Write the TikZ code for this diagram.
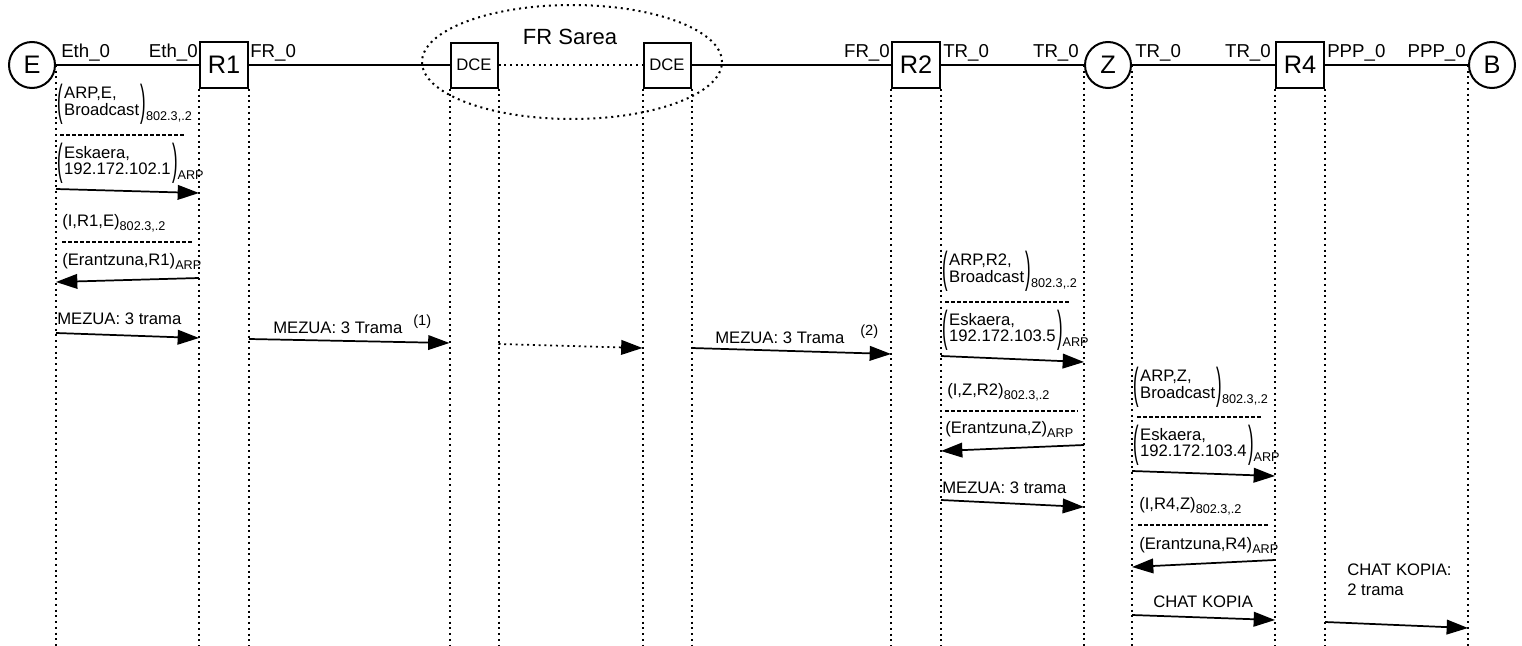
\documentclass[tikz,border=0pt]{standalone}
\usepackage{fontspec}
\setmainfont{Liberation Sans}
\usetikzlibrary{arrows.meta,shapes.geometric}
\newcommand{\fsz}[1]{\fontsize{#1}{#1}\selectfont}
\newcommand{\subtx}[1]{\mbox{\fsz{9.5}#1}}
\newcommand{\tallp}[1]{$\vcenter{\hbox{\scalebox{1}[2.6]{#1}}}$}
\newcommand{\pgrp}[3]{\tallp{(}\kern1pt$\vcenter{\hbox{\begin{tabular}{@{}l@{}}#1\\#2\end{tabular}}}$\kern1pt\tallp{)}\raisebox{-9.5pt}{\fsz{9.5}#3}}
\newcommand{\sgrp}[2]{$\mbox{#1}_{\subtx{#2}}$}
\tikzset{
 ent/.style={draw, line width=1.5pt, inner sep=0pt, font=\fsz{19}},
 boxn/.style={ent, rectangle, minimum width=36pt, minimum height=34.5pt},
 circn/.style={ent, circle, minimum size=34.5pt},
 dcebox/.style={ent, rectangle, minimum width=35.25pt, minimum height=33.75pt, font=\fsz{12.5}},
 life/.style={line width=1.5pt, dash pattern=on 1.5pt off 2.8pt},
 link/.style={line width=1.5pt},
 msg/.style={line width=1.3pt, -{Triangle[length=16pt,width=11pt]}},
 sepl/.style={line width=0.8pt, dash pattern=on 3pt off 1.5pt},
 lbl/.style={inner sep=0pt, font=\fsz{14}},
 txt/.style={inner sep=0pt, font=\fsz{12.5}},
 smalltxt/.style={inner sep=0pt, font=\fsz{11}},
}
\begin{document}
\begin{tikzpicture}[x=0.75pt,y=-0.75pt]
\useasboundingbox (0,0) rectangle (1522,646);
\coordinate (bot) at (0,646);
% FR network ellipse
\node[ellipse, draw, line width=1.5pt, dash pattern=on 1.5pt off 3pt, minimum width=225pt, minimum height=85.5pt, inner sep=0pt] (frnet) at (572,62) {};
\node[inner sep=0pt, font=\fsz{16.5}] (frlbl) at (570,37) {FR Sarea};
% entities
\node[circn] (E) at (32,65) {E};
\node[boxn] (R1) at (224,65) {R1};
\node[dcebox] (D1) at (474,65) {DCE};
\node[dcebox] (D2) at (667,65) {DCE};
\node[boxn] (R2) at (916,65) {R2};
\node[circn] (Z) at (1108,65) {Z};
\node[boxn] (R4) at (1300,65) {R4};
\node[circn] (B) at (1492,65) {B};
% links
\draw[link] (E) -- (R1);
\draw[link] (R1) -- (D1);
\draw[life] (D1) -- (D2);
\draw[link] (D2) -- (R2);
\draw[link] (R2) -- (Z);
\draw[link] (Z) -- (R4);
\draw[link] (R4) -- (B);
% interface labels
\node[lbl, anchor=base west] (l1) at (61,57) {Eth\_0};
\node[lbl, anchor=base east] (l2) at (198,57) {Eth\_0};
\node[lbl, anchor=base west] (l3) at (250,57) {FR\_0};
\node[lbl, anchor=base east] (l4) at (890,57) {FR\_0};
\node[lbl, anchor=base west] (l5) at (943,57) {TR\_0};
\node[lbl, anchor=base east] (l6) at (1079,57) {TR\_0};
\node[lbl, anchor=base west] (l7) at (1135,57) {TR\_0};
\node[lbl, anchor=base east] (l8) at (1271,57) {TR\_0};
\node[lbl, anchor=base west] (l9) at (1327,57) {PPP\_0};
\node[lbl, anchor=base east] (l10) at (1466,57) {PPP\_0};
% lifelines
\draw[life] (E.east) -- (E.east |- bot);
\draw[life] (R1.south west) -- (R1.south west |- bot);
\draw[life] (R1.south east) -- (R1.south east |- bot);
\draw[life] (D1.south west) -- (D1.south west |- bot);
\draw[life] (D1.south east) -- (D1.south east |- bot);
\draw[life] (D2.south west) -- (D2.south west |- bot);
\draw[life] (D2.south east) -- (D2.south east |- bot);
\draw[life] (R2.south west) -- (R2.south west |- bot);
\draw[life] (R2.south east) -- (R2.south east |- bot);
\draw[life] (Z.west) -- (Z.west |- bot);
\draw[life] (Z.east) -- (Z.east |- bot);
\draw[life] (R4.south west) -- (R4.south west |- bot);
\draw[life] (R4.south east) -- (R4.south east |- bot);
\draw[life] (B.west) -- (B.west |- bot);
% ---- E <-> R1
\node[txt, anchor=west] (a1) at (57,104) {\pgrp{ARP,E,}{Broadcast}{802.3,.2}};
\draw[sepl] (60,135) -- (186,135);
\node[txt, anchor=west] (a2) at (57,163) {\pgrp{Eskaera,}{192.172.102.1}{ARP}};
\draw[msg] (E.east |- 0,189) -- (R1.south west |- 0,193);
\node[txt, anchor=base west] (a3) at (62,226) {\sgrp{(I,R1,E)}{802.3,.2}};
\draw[sepl] (62,242) -- (193,242);
\node[txt, anchor=base west] (a4) at (62,265) {\sgrp{(Erantzuna,R1)}{ARP}};
\draw[msg] (R1.south west |- 0,278) -- (E.east |- 0,282);
\node[txt, anchor=base west] (a5) at (57,324) {MEZUA: 3 trama};
\draw[msg] (E.east |- 0,333) -- (R1.south west |- 0,338);
% ---- R1 -> DCE -> DCE -> R2
\node[txt, anchor=base west] (b1) at (273,333) {MEZUA: 3 Trama};
\node[smalltxt, anchor=base west] (b2) at (413,325) {(1)};
\draw[msg] (R1.south east |- 0,339) -- (D1.south west |- 0,343);
\draw[msg, dash pattern=on 1.5pt off 2.8pt] (D1.south east |- 0,344) -- (D2.south west |- 0,348);
\node[txt, anchor=base west] (c1) at (715,343) {MEZUA: 3 Trama};
\node[smalltxt, anchor=base west] (c2) at (860,335) {(2)};
\draw[msg] (D2.south east |- 0,348) -- (R2.south west |- 0,354);
% ---- R2 <-> Z
\node[txt, anchor=west] (d1) at (942,271) {\pgrp{ARP,R2,}{Broadcast}{802.3,.2}};
\draw[sepl] (945,302) -- (1070,302);
\node[txt, anchor=west] (d2) at (942,330) {\pgrp{Eskaera,}{192.172.103.5}{ARP}};
\draw[msg] (R2.south east |- 0,356) -- (Z.west |- 0,362);
\node[txt, anchor=base west] (d3) at (947,395) {\sgrp{(I,Z,R2)}{802.3,.2}};
\draw[sepl] (945,411) -- (1078,411);
\node[txt, anchor=base west] (d4) at (945,433) {\sgrp{(Erantzuna,Z)}{ARP}};
\draw[msg] (Z.west |- 0,445) -- (R2.south east |- 0,451);
\node[txt, anchor=base west] (d5) at (942,493) {MEZUA: 3 trama};
\draw[msg] (R2.south east |- 0,500) -- (Z.west |- 0,507);
% ---- Z <-> R4
\node[txt, anchor=west] (e1) at (1133,387) {\pgrp{ARP,Z,}{Broadcast}{802.3,.2}};
\draw[sepl] (1137,417) -- (1262,417);
\node[txt, anchor=west] (e2) at (1133,445) {\pgrp{Eskaera,}{192.172.103.4}{ARP}};
\draw[msg] (Z.east |- 0,471) -- (R4.south west |- 0,476);
\node[txt, anchor=base west] (e3) at (1139,509) {\sgrp{(I,R4,Z)}{802.3,.2}};
\draw[sepl] (1138,525) -- (1270,525);
\node[txt, anchor=base west] (e4) at (1139,549) {\sgrp{(Erantzuna,R4)}{ARP}};
\draw[msg] (R4.south west |- 0,560) -- (Z.east |- 0,567);
\node[txt, anchor=base west] (e5) at (1153,607) {CHAT KOPIA};
\draw[msg] (Z.east |- 0,615) -- (R4.south west |- 0,620);
% ---- R4 -> B
\node[txt, anchor=base west, align=left] (f1) at (1347,595) {CHAT KOPIA:\\[2pt]2 trama};
\draw[msg] (R4.south east |- 0,622) -- (B.west |- 0,628);
\end{tikzpicture}
\end{document}
